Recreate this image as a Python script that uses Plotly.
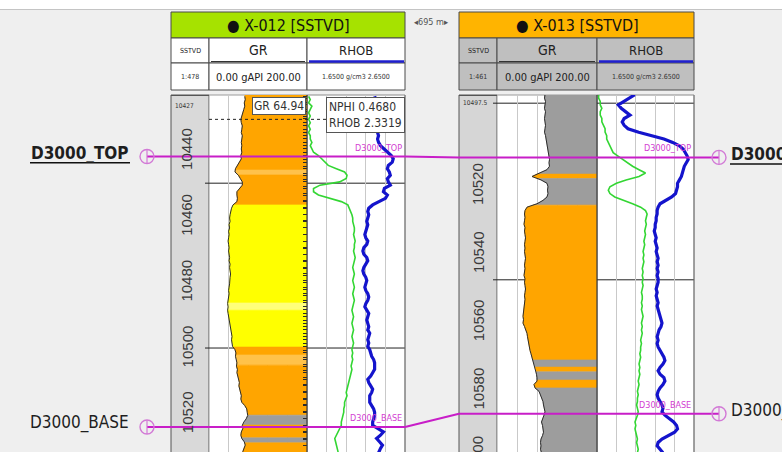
import numpy as np
import plotly.graph_objects as go

W, H = 782, 452

# ---------------- data ----------------
w1_name = "X-012 [SSTVD]"
w2_name = "X-013 [SSTVD]"
w1_scale, w2_scale = "1:478", "1:461"
well_distance = "695 m"

w1_depth = list(range(10424, 10534))
w1_gr = [73, 74, 72, 73, 71, 69, 67, 65, 66, 68,
         67, 66, 68, 67, 66, 67, 66, 67, 65, 66,
         62, 57, 54, 53, 60, 64, 68, 68, 63, 57,
         57, 58, 57, 49, 46, 44, 43, 42, 43, 41,
         42, 40, 41, 40, 39, 40, 41, 40, 41, 42,
         41, 43, 42, 43, 44, 43, 43, 42, 41, 40,
         41, 40, 39, 38, 39, 38, 39, 40, 42, 43,
         44, 45, 46, 47, 46, 47, 48, 53, 55, 54,
         56, 57, 56, 58, 57, 59, 60, 62, 61, 63,
         64, 66, 65, 67, 73, 77, 78, 79, 76, 71,
         68, 69, 66, 65, 67, 72, 74, 71, 69, 70]
w1_nphi = [0.44, 0.43, 0.44, 0.42, 0.43, 0.44, 0.43, 0.44, 0.43, 0.44,
           0.43, 0.44, 0.43, 0.43, 0.42, 0.43, 0.42, 0.41, 0.38, 0.36,
           0.34, 0.32, 0.27, 0.22, 0.205, 0.21, 0.25, 0.37, 0.41, 0.41,
           0.38, 0.31, 0.24, 0.20, 0.19, 0.18, 0.175, 0.17, 0.17, 0.165,
           0.16, 0.16, 0.165, 0.16, 0.155, 0.16, 0.16, 0.165, 0.16, 0.155,
           0.16, 0.165, 0.17, 0.165, 0.16, 0.165, 0.17, 0.165, 0.16, 0.165,
           0.17, 0.165, 0.16, 0.165, 0.17, 0.175, 0.17, 0.165, 0.17, 0.175,
           0.17, 0.165, 0.17, 0.175, 0.17, 0.165, 0.17, 0.175, 0.17, 0.175,
           0.17, 0.175, 0.18, 0.175, 0.18, 0.185, 0.19, 0.195, 0.20, 0.205,
           0.21, 0.205, 0.215, 0.22, 0.22, 0.225, 0.225, 0.23, 0.235, 0.24,
           0.24, 0.25, 0.255, 0.265, 0.28, 0.275, 0.27, 0.265, 0.26, 0.265]
w1_rhob = [2.34, 2.35, 2.33, 2.34, 2.33, 2.34, 2.33, 2.33, 2.35, 2.36,
           2.37, 2.37, 2.38, 2.37, 2.38, 2.40, 2.44, 2.48, 2.51, 2.53,
           2.52, 2.48, 2.47, 2.49, 2.50, 2.47, 2.48, 2.50, 2.44, 2.43,
           2.47, 2.45, 2.38, 2.32, 2.28, 2.27, 2.28, 2.27, 2.26, 2.27,
           2.26, 2.25, 2.24, 2.25, 2.27, 2.26, 2.23, 2.22, 2.23, 2.26,
           2.27, 2.25, 2.23, 2.22, 2.23, 2.25, 2.26, 2.25, 2.24, 2.25,
           2.27, 2.28, 2.27, 2.25, 2.24, 2.26, 2.28, 2.27, 2.26, 2.27,
           2.28, 2.27, 2.29, 2.28, 2.27, 2.28, 2.27, 2.29, 2.30, 2.31,
           2.33, 2.34, 2.34, 2.34, 2.32, 2.30, 2.27, 2.28, 2.30, 2.32,
           2.31, 2.29, 2.29, 2.29, 2.31, 2.33, 2.34, 2.34, 2.33, 2.32,
           2.32, 2.37, 2.43, 2.40, 2.36, 2.39, 2.42, 2.40, 2.38, 2.37]

w2_depth = list(range(10495, 10601))
w2_gr = [96, 95, 97, 96, 95, 97, 96, 95, 96, 97,
         96, 95, 97, 98, 99, 101, 102, 103, 104, 105,
         104, 105, 100, 84, 70, 88, 100, 102, 101, 102,
         100, 92, 80, 60, 56, 55, 56, 55, 54, 56,
         55, 56, 57, 56, 55, 56, 55, 56, 57, 56,
         55, 56, 55, 54, 56, 55, 56, 57, 56, 55,
         56, 55, 54, 53, 52, 52, 53, 52, 55, 58,
         60, 61, 62, 63, 65, 66, 68, 70, 72, 74,
         76, 78, 79, 80, 80, 74, 76, 84, 87, 90,
         92, 93, 95, 96, 94, 91, 89, 91, 92, 93,
         91, 88, 87, 88, 87, 89]
w2_nphi = [0.44, 0.44, 0.43, 0.43, 0.42, 0.43, 0.43, 0.42, 0.42, 0.41,
           0.40, 0.40, 0.39, 0.39, 0.38, 0.37, 0.36, 0.35, 0.32, 0.29,
           0.26, 0.23, 0.19, 0.15, 0.19, 0.27, 0.33, 0.37, 0.38, 0.37,
           0.34, 0.28, 0.23, 0.18, 0.15, 0.14, 0.145, 0.15, 0.145, 0.15,
           0.155, 0.15, 0.155, 0.16, 0.155, 0.16, 0.165, 0.16, 0.165, 0.16,
           0.165, 0.17, 0.165, 0.17, 0.165, 0.17, 0.165, 0.17, 0.175, 0.17,
           0.17, 0.175, 0.17, 0.175, 0.17, 0.165, 0.17, 0.175, 0.17, 0.175,
           0.17, 0.175, 0.18, 0.175, 0.18, 0.18, 0.185, 0.18, 0.185, 0.19,
           0.185, 0.19, 0.185, 0.19, 0.195, 0.19, 0.195, 0.20, 0.195, 0.20,
           0.20, 0.205, 0.20, 0.195, 0.20, 0.21, 0.215, 0.21, 0.215, 0.21,
           0.205, 0.20, 0.205, 0.20, 0.195, 0.20]
w2_rhob = [2.04, 1.98, 1.92, 1.87, 1.90, 1.94, 1.99, 1.93, 1.91, 1.93,
           1.97, 2.08, 2.22, 2.34, 2.43, 2.50, 2.54, 2.56, 2.58, 2.59,
           2.57, 2.55, 2.54, 2.53, 2.52, 2.50, 2.48, 2.48, 2.47, 2.46,
           2.42, 2.36, 2.30, 2.28, 2.27, 2.27, 2.26, 2.26, 2.25, 2.25,
           2.24, 2.25, 2.26, 2.25, 2.26, 2.27, 2.26, 2.27, 2.28, 2.27,
           2.28, 2.27, 2.28, 2.27, 2.28, 2.28, 2.27, 2.26, 2.27, 2.26,
           2.27, 2.28, 2.27, 2.28, 2.29, 2.30, 2.31, 2.32, 2.31, 2.29,
           2.28, 2.27, 2.28, 2.27, 2.28, 2.30, 2.32, 2.34, 2.35, 2.33,
           2.30, 2.28, 2.30, 2.34, 2.35, 2.33, 2.30, 2.28, 2.27, 2.28,
           2.30, 2.32, 2.33, 2.32, 2.35, 2.40, 2.44, 2.47, 2.48, 2.45,
           2.38, 2.32, 2.28, 2.27, 2.30, 2.33]

# lithology fill intervals
w1_band_top = [10423.5, 10446.4, 10447.9, 10457.0, 10486.8, 10489.0, 10500.2,
               10502.6, 10505.7, 10520.9, 10523.9, 10527.8, 10529.3]
w1_band_base = [10446.4, 10447.9, 10457.0, 10486.8, 10489.0, 10500.2, 10502.6,
                10505.7, 10520.9, 10523.9, 10527.8, 10529.3, 10533.0]
w1_band_lith = ["orange", "lt_orange", "orange", "yellow", "lt_yellow", "yellow", "orange",
                "lt_orange", "orange", "gray", "orange", "gray", "orange"]
w2_band_top = [10494.5, 10518.3, 10519.6, 10527.4, 10572.8, 10574.9, 10576.3, 10578.7, 10581.0]
w2_band_base = [10518.3, 10519.6, 10527.4, 10572.8, 10574.9, 10576.3, 10578.7, 10581.0, 10600.5]
w2_band_lith = ["gray", "orange", "gray", "orange", "gray", "orange", "gray", "orange", "gray"]

# visible depth windows, depth labels, zone lines
w1_window = [10423.6, 10532.1]
w2_window = [10495.1, 10599.8]
w1_depth_labels = [10440, 10460, 10480, 10500, 10520]
w2_depth_labels = [10520, 10540, 10560, 10580, 10600]
w1_first_label, w2_first_label = "10427", "10497.5"
w1_first_depth, w2_first_depth = 10427.0, 10497.5
w1_zone_lines = [10450.4, 10500.5]
w2_zone_lines = [10497.5, 10549.3]

# well tops
top_names = ["D3000_TOP", "D3000_BASE"]
top_selected = [True, False]
w1_tops = [10442.3, 10524.5]
w2_tops = [10513.4, 10588.6]

# curve scales and cursor readout (well X-012)
gr_range = [0.0, 200.0]
nphi_range = [0.45, -0.15]
rhob_range = [1.65, 2.65]
readout_depth = 10431.0
readout_gr = 64.94
readout_nphi = 0.4680
readout_rhob = 2.3319

# ---------------- styling ----------------
NARROW = "DejaVu Sans Condensed, Liberation Sans Narrow, Arial Narrow, Liberation Sans, Arial, sans-serif"
SANS = "Liberation Sans, Arial, sans-serif"
LITH = {"orange": "#ffa500", "lt_orange": "#ffc24a", "yellow": "#ffff00",
        "lt_yellow": "#ffff7a", "gray": "#9d9d9d"}
MAG = "#c81ec8"
MAGL = "#d27ad6"
GRID = "#c9c9c9"
TRACK_TOP = 1 - 95 / H


def P(x):
    return x / W


def Q(y):
    return 1 - y / H


def d2p(d, win):
    return TRACK_TOP - (d - win[0]) / (win[1] - win[0]) * TRACK_TOP


fig = go.Figure()
shapes, annots, layout_axes = [], [], {}


def rect(x0, y0, x1, y1, fill, line="#555555", lw=1, layer="below"):
    shapes.append(dict(type="rect", xref="paper", yref="paper", x0=P(x0), x1=P(x1),
                       y0=Q(y1), y1=Q(y0), fillcolor=fill,
                       line=dict(color=line, width=lw), layer=layer))


def hline(x0, x1, y, color, lw=1, dash="solid", layer="above"):
    shapes.append(dict(type="line", xref="paper", yref="paper", x0=P(x0), x1=P(x1),
                       y0=Q(y), y1=Q(y), line=dict(color=color, width=lw, dash=dash), layer=layer))


def text(x, y, s, size, color="#111", family=NARROW, xanchor="center", yanchor="middle", **kw):
    annots.append(dict(x=P(x), y=Q(y), xref="paper", yref="paper", text=s, showarrow=False,
                       xanchor=xanchor, yanchor=yanchor,
                       font=dict(size=size, color=color, family=family), **kw))


# top white strip
rect(0, 0, W, 9, "#ffffff", line="rgba(0,0,0,0)", lw=0)
hline(0, W, 9.5, "#c4c4c4", 1, layer="below")

wells = [
    dict(name=w1_name, scale=w1_scale, depth=w1_depth, gr=w1_gr, nphi=w1_nphi, rhob=w1_rhob,
         win=w1_window, bt=w1_band_top, bb=w1_band_base, bl=w1_band_lith,
         labels=w1_depth_labels, first=w1_first_label, first_d=w1_first_depth,
         zones=w1_zone_lines, cols=(171, 209, 307, 405), ax=("x", "x2", "x3", "x4"), y="y",
         title_bg="#a6e200", row_bg="#ffffff", depth_bg="#d9d9d9", label_x=187, label_shift=0),
    dict(name=w2_name, scale=w2_scale, depth=w2_depth, gr=w2_gr, nphi=w2_nphi, rhob=w2_rhob,
         win=w2_window, bt=w2_band_top, bb=w2_band_base, bl=w2_band_lith,
         labels=w2_depth_labels, first=w2_first_label, first_d=w2_first_depth,
         zones=w2_zone_lines, cols=(459, 497, 597, 694), ax=("x5", "x6", "x7", "x8"), y="y2",
         title_bg="#ffb400", row_bg="#bfbfbf", depth_bg="#d6d6d6", label_x=478, label_shift=-4),
]


def akey(a):
    return a[0] + "axis" + a[1:]


for w in wells:
    c0, c1, c2, c3 = w["cols"]
    xd, xg, xn, xr = w["ax"]
    ya = w["y"]
    dom = lambda a, b: [P(a), P(b)]
    layout_axes[akey(xd)] = dict(domain=dom(c0, c1), range=[0, 1], anchor=ya, visible=False)
    layout_axes[akey(xg)] = dict(domain=dom(c1, c2), range=gr_range, anchor=ya, showgrid=True,
                                 gridcolor=GRID, gridwidth=1,
                                 tickvals=[gr_range[0] + f * (gr_range[1] - gr_range[0]) for f in (0.2, 0.4, 0.6, 0.8)],
                                 showticklabels=False, ticks="", zeroline=False, showline=False)
    layout_axes[akey(xn)] = dict(domain=dom(c2, c3), range=nphi_range, anchor=ya, showgrid=True,
                                 gridcolor=GRID, gridwidth=1,
                                 tickvals=[nphi_range[0] + f * (nphi_range[1] - nphi_range[0]) for f in (0.2, 0.4, 0.6, 0.8)],
                                 showticklabels=False, ticks="", zeroline=False, showline=False)
    layout_axes[akey(xr)] = dict(domain=dom(c2, c3), range=rhob_range, anchor=ya, overlaying=xn,
                                 visible=False)
    layout_axes[akey(ya)] = dict(domain=[0, TRACK_TOP], range=[w["win"][1], w["win"][0]], anchor=xd,
                                 side="right", ticks="inside", ticklen=4, tickwidth=1, tickcolor="#2a2a2a",
                                 dtick=2, tick0=0, showticklabels=False, showgrid=False,
                                 zeroline=False, showline=False)

    # track backgrounds
    rect(c0, 95, c1, 470, w["depth_bg"], line="#555555")
    rect(c1, 95, c2, 470, "#ffffff", line="#9a9a9a")
    rect(c2, 95, c3, 470, "#ffffff", line="#8a8a8a")

    # zone lines (hidden under the fill)
    for zd in w["zones"]:
        shapes.append(dict(type="line", xref="paper", yref=ya, x0=P(c1 - 4), x1=P(c3), y0=zd, y1=zd,
                           line=dict(color="#222222", width=1), layer="below"))

    # lithology fill from the GR curve to the right edge of the track
    for t, b, lith in zip(w["bt"], w["bb"], w["bl"]):
        inner = [d for d in w["depth"] if t < d < b]
        ds = [t] + inner + [b]
        xs = list(np.interp(ds, w["depth"], w["gr"]))
        col = LITH[lith]
        fig.add_trace(go.Scatter(x=xs + [gr_range[1], gr_range[1], xs[0]], y=ds + [b, t, t],
                                 mode="lines", fill="toself", fillcolor=col,
                                 line=dict(color=col, width=0.6), xaxis=xg, yaxis=ya,
                                 hoverinfo="skip", showlegend=False))
    fig.add_trace(go.Scatter(x=w["gr"], y=w["depth"], mode="lines", line=dict(color="#2b2b2b", width=1),
                             xaxis=xg, yaxis=ya, showlegend=False, hoverinfo="skip"))
    fig.add_trace(go.Scatter(x=w["nphi"], y=w["depth"], mode="lines",
                             line=dict(color="#33d633", width=1.6), xaxis=xn, yaxis=ya,
                             showlegend=False, hoverinfo="skip"))
    fig.add_trace(go.Scatter(x=w["rhob"], y=w["depth"], mode="lines",
                             line=dict(color="#1414cc", width=3.2), xaxis=xr, yaxis=ya,
                             showlegend=False, hoverinfo="skip"))

    # right border of GR track and outer border
    shapes.append(dict(type="line", xref="paper", yref="paper", x0=P(c2), x1=P(c2), y0=0, y1=TRACK_TOP,
                       line=dict(color="#3a3a3a", width=1.2), layer="above"))
    shapes.append(dict(type="line", xref="paper", yref="paper", x0=P(c3), x1=P(c3), y0=0, y1=TRACK_TOP,
                       line=dict(color="#7a7a7a", width=1), layer="above"))
    hline(c0, c1, 95.5, "#555555", 1)

    # depth labels
    for d in w["labels"]:
        annots.append(dict(x=P(w["label_x"]), y=d2p(d, w["win"]), xref="paper", yref="paper",
                           text=str(d), textangle=-90, showarrow=False, yshift=w["label_shift"],
                           xanchor="center", yanchor="middle",
                           font=dict(size=15, color="#3a3a3a", family=SANS)))
    annots.append(dict(x=P(c0 + 2), y=d2p(w["first_d"], w["win"]), xref="paper", yref="paper",
                       text=w["first"], showarrow=False, xanchor="left", yanchor="middle",
                       font=dict(size=6.5, color="#333", family=NARROW)))

    # header
    rect(c0, 12, c3, 38, w["title_bg"], line="#4a4a4a")
    for (a, b) in ((c0, c1), (c1, c2), (c2, c3)):
        rect(a, 38, b, 63, w["row_bg"], line="#4a4a4a")
        rect(a, 63, b, 90, w["row_bg"], line="#4a4a4a")
    hline(c1 + 2, c2 - 2, 61.5, "#333333", 1.2)
    hline(c2 + 2, c3 - 1, 61.5, "#1f1fcf", 2.6)
    text((c0 + c3) / 2 + 0.5, 25, "● " + w["name"], 16, "#111")
    text((c0 + c1) / 2, 51, "SSTVD", 7, "#222")
    text((c1 + c2) / 2, 50, "GR", 14, "#222")
    text((c2 + c3) / 2, 50, "RHOB", 13, "#222")
    text((c0 + c1) / 2, 77, w["scale"], 7, "#333")
    text((c1 + c2) / 2, 77, f"{gr_range[0]:.2f} gAPI {gr_range[1]:.2f}", 11, "#222")
    text((c2 + c3) / 2, 77, f"{rhob_range[0]:.4f} g/cm3 {rhob_range[1]:.4f}", 7, "#333")

# distance between wells
text(432, 22, "◂" + well_distance + "▸", 9, "#555")

# cursor readout in well X-012
shapes.append(dict(type="line", xref="paper", yref="y", x0=P(209), x1=P(405),
                   y0=readout_depth, y1=readout_depth,
                   line=dict(color="#222", width=1, dash="dot"), layer="above"))
annots.append(dict(x=P(306), y=Q(97), xref="paper", yref="paper", xanchor="right", yanchor="top",
                   text=f"GR {readout_gr:.2f}", showarrow=False, align="left",
                   bgcolor="#ffffff", bordercolor="#555", borderwidth=1, borderpad=1,
                   font=dict(size=12, color="#333", family=NARROW)))
annots.append(dict(x=P(405), y=Q(97), xref="paper", yref="paper", xanchor="right", yanchor="top",
                   text=f"NPHI {readout_nphi:.4f}<br>RHOB {readout_rhob:.4f}", showarrow=False,
                   align="left", bgcolor="#ffffff", bordercolor="#555", borderwidth=1, borderpad=2,
                   font=dict(size=12, color="#333", family=NARROW)))

# well tops & correlation lines
for name, sel, d1, d2 in zip(top_names, top_selected, w1_tops, w2_tops):
    p1 = d2p(d1, w1_window)
    p2 = d2p(d2, w2_window)
    shapes.append(dict(type="line", xref="paper", yref="y", x0=P(147), x1=P(405), y0=d1, y1=d1,
                       line=dict(color=MAG, width=2), layer="above"))
    shapes.append(dict(type="line", xref="paper", yref="paper", x0=P(405), x1=P(459), y0=p1, y1=p2,
                       line=dict(color=MAG, width=2), layer="above"))
    shapes.append(dict(type="line", xref="paper", yref="y2", x0=P(459), x1=P(719), y0=d2, y1=d2,
                       line=dict(color=MAG, width=2), layer="above"))
    for xc, yr, dd in ((147, "y", d1), (719, "y2", d2)):
        shapes.append(dict(type="circle", xref="paper", yref=yr, xsizemode="pixel", ysizemode="pixel",
                           xanchor=P(xc), yanchor=dd, x0=-7, x1=7, y0=-7, y1=7,
                           line=dict(color=MAGL, width=1.4), layer="above"))
        shapes.append(dict(type="line", xref="paper", yref=yr, xsizemode="pixel", ysizemode="pixel",
                           xanchor=P(xc), yanchor=dd, x0=0, x1=0, y0=-7, y1=7,
                           line=dict(color=MAGL, width=1.2), layer="above"))
    lbl = f"<b>{name}</b>" if sel else name
    annots.append(dict(x=P(131), y=p1, xref="paper", yref="paper", xanchor="right", yanchor="middle",
                       yshift=4, text=lbl, showarrow=False,
                       font=dict(size=17, color="#1e1e1e", family=NARROW)))
    annots.append(dict(x=P(729), y=p2, xref="paper", yref="paper", xanchor="left", yanchor="middle",
                       yshift=3, text=lbl, showarrow=False,
                       font=dict(size=17, color="#1e1e1e", family=NARROW)))
    if sel:
        shapes.append(dict(type="line", xref="paper", yref="y", x0=P(30), x1=P(130),
                           y0=d1 + 1.9, y1=d1 + 1.9, line=dict(color="#111", width=1.5), layer="above"))
        shapes.append(dict(type="line", xref="paper", yref="y2", x0=P(730), x1=P(782),
                           y0=d2 + 1.9, y1=d2 + 1.9, line=dict(color="#111", width=1.5), layer="above"))
    for xr_, p in ((405, p1), (694, p2)):
        annots.append(dict(x=P(xr_ - 1), y=p, xref="paper", yref="paper", xanchor="right",
                           yanchor="bottom", yshift=2, text=name, showarrow=False,
                           font=dict(size=9, color="#d23cd2", family=NARROW)))

fig.update_layout(
    width=W, height=H, autosize=False,
    margin=dict(l=0, r=0, t=0, b=0, pad=0),
    paper_bgcolor="#efefef", plot_bgcolor="rgba(0,0,0,0)",
    showlegend=False, shapes=shapes, annotations=annots,
    **layout_axes,
)

fig.write_html("out.html", config={"displayModeBar": False},
               post_script="document.body.style.margin='0px';")
